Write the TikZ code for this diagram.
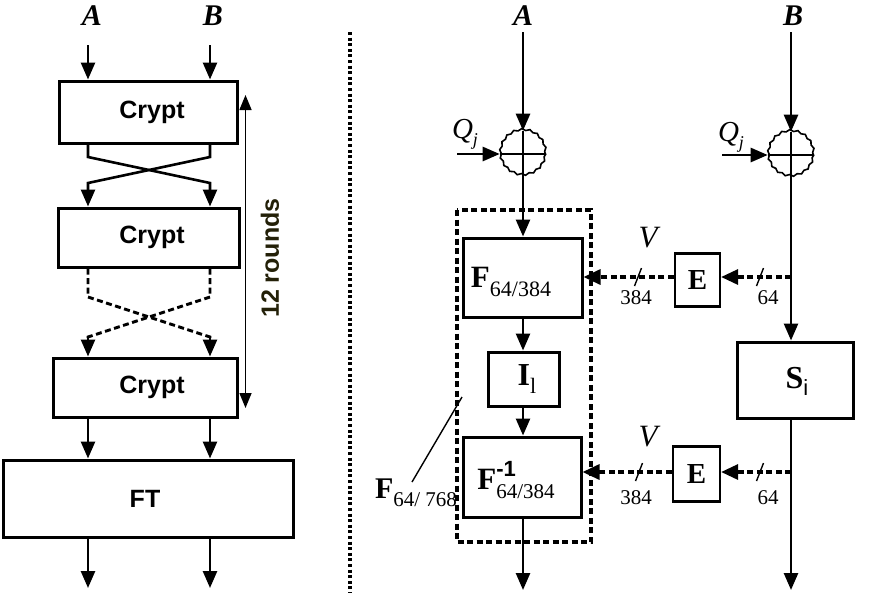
\documentclass[tikz,border=0pt]{standalone}
\usepackage{fontspec}
\setmainfont{Liberation Serif}
\setsansfont{Liberation Sans}
\usetikzlibrary{arrows.meta,decorations.pathmorphing}
\definecolor{roundcol}{RGB}{35,32,8}
\begin{document}
\begin{tikzpicture}[x=1pt,y=-1pt,
  box/.style={draw, line width=3pt, inner sep=0pt},
  thinbox/.style={draw, line width=2.2pt, inner sep=0pt},
  arr/.style={line width=2.6pt, -{Triangle[length=17pt,width=14pt]}},
  dsh/.style={line width=3.2pt, dash pattern=on 6pt off 3.5pt},
  darr/.style={dsh, -{Triangle[length=17pt,width=15pt]}},
  sf/.style={font=\sffamily\bfseries\fontsize{25}{25}\selectfont},
  lab/.style={font=\fontsize{30}{30}\selectfont\bfseries\itshape},
  num/.style={font=\fontsize{21}{21}\selectfont, inner sep=0pt},
  xor/.style={circle, draw, line width=1.6pt, minimum size=45pt, inner sep=0pt,
     decorate, decoration={snake, segment length=8pt, amplitude=0.9pt}},
]
\useasboundingbox (0,0) rectangle (874,598);

% ---------------- left side ----------------
\node[lab] (lA) at (92,16) {A};
\node[lab] (lB) at (213,16) {B};
\node[box, minimum width=178pt, minimum height=62pt] (c1) at (148,112) {};
\node[box, minimum width=181pt, minimum height=59pt] (c2) at (148.5,237.5) {};
\node[box, minimum width=184pt, minimum height=59pt] (c3) at (145,387.5) {};
\node[box, minimum width=290pt, minimum height=77pt] (ft) at (148,498.5) {};
\node[sf, inner sep=0pt] (c1t) at (152,112) {Crypt};
\node[sf, inner sep=0pt] (c2t) at (152,237.5) {Crypt};
\node[sf, inner sep=0pt] (c3t) at (152,387.5) {Crypt};
\node[sf, inner sep=0pt] (ftt) at (145,498.5) {FT};

\coordinate (ia) at (88,45);
\coordinate (ib) at (210,45);
\draw[arr] (ia) -- (ia |- c1.north);
\draw[arr] (ib) -- (ib |- c1.north);

% solid crossing
\draw[arr] (88,0 |- c1.south) -- (88,157) -- (210,183) -- (210,0 |- c2.north);
\draw[arr] (210,0 |- c1.south) -- (210,157) -- (88,183) -- (88,0 |- c2.north);
% dashed crossing
\draw[dsh, line width=2.9pt] (88,0 |- c2.south) -- (88,297) -- (210,337) -- (210,342);
\draw[dsh, line width=2.9pt] (210,0 |- c2.south) -- (210,297) -- (88,337) -- (88,342);
\coordinate (da) at (88,337);
\coordinate (db) at (210,337);
\draw[arr] (da) -- (da |- c3.north);
\draw[arr] (db) -- (db |- c3.north);

\draw[arr] (88,0 |- c3.south) -- (88,0 |- ft.north);
\draw[arr] (210,0 |- c3.south) -- (210,0 |- ft.north);
\coordinate (oa) at (88,588);
\coordinate (ob) at (210,588);
\draw[arr] (oa |- ft.south) -- (oa);
\draw[arr] (ob |- ft.south) -- (ob);

% 12 rounds
\coordinate (r1) at (245.5,95);
\coordinate (r2) at (245.5,408);
\draw[line width=1.5pt, {Triangle[length=15pt,width=12pt]}-{Triangle[length=15pt,width=12pt]}] (r1) -- (r2);
\node[rotate=90, font=\sffamily\bfseries\fontsize{25}{25}\selectfont, text=roundcol] (rounds) at (270,258) {12 rounds};

% separator
\coordinate (s1) at (350,32);
\coordinate (s2) at (350,593);
\draw[line width=3.2pt, dash pattern=on 3pt off 2.6pt] (s1) -- (s2);

% ---------------- right side ----------------
\node[lab] (rA) at (523,16) {A};
\node[lab] (rB) at (793,16) {B};

\node[xor] (xa) at (523,154) {};
\node[xor] (xb) at (791,155) {};
\draw[line width=1.5pt] (xa.north) -- (xa.south) (xa.west) -- (xa.east);
\draw[line width=1.5pt] (xb.north) -- (xb.south) (xb.west) -- (xb.east);

\coordinate (tA) at (523,32);
\coordinate (tB) at (791,32);
\draw[arr] (tA) -- (xa.north);
\draw[arr] (tB) -- (xb.north);

\node[font=\fontsize{29}{29}\selectfont\itshape, inner sep=0pt] (q1) at (465,134) {Q\raisebox{-0.25em}{\fontsize{18}{18}\selectfont j}};
\node[font=\fontsize{29}{29}\selectfont\itshape, inner sep=0pt] (q2) at (731,137) {Q\raisebox{-0.25em}{\fontsize{18}{18}\selectfont j}};
\coordinate (qa) at (457,154);
\coordinate (qb) at (722,155);
\draw[arr] (qa) -- (xa.west);
\draw[arr] (qb) -- (xb.west);

% F-block container
\draw[dsh] (457,210) rectangle (591,542);

\node[box, minimum width=119pt, minimum height=79pt] (F) at (522.5,277.5) {};
\node[inner sep=0pt, font=\fontsize{31}{31}\selectfont] (Ft) at (511,282) {\textbf{F}\raisebox{-0.28em}{\fontsize{22}{22}\selectfont 64/384}};
\node[box, minimum width=71pt, minimum height=54pt] (I) at (523.5,379) {};
\node[inner sep=0pt, font=\fontsize{32}{32}\selectfont] (It) at (527,379) {\textbf{I}\raisebox{-0.28em}{\fontsize{22}{22}\selectfont l}};
\node[box, minimum width=118pt, minimum height=80pt] (Fi) at (522,477) {};
\node[inner sep=0pt, font=\fontsize{31}{31}\selectfont] (Fit) at (516,480) {\textbf{F}\rlap{\raisebox{0.42em}{\sffamily\bfseries\fontsize{22}{22}\selectfont -1}}\raisebox{-0.28em}{\fontsize{21}{21}\selectfont 64/384}};

\draw[arr] (xa.south) -- (xa.south |- F.north);
\draw[arr] (523,0 |- F.south) -- (523,0 |- I.north);
\draw[arr] (523,0 |- I.south) -- (523,0 |- Fi.north);
\coordinate (fo) at (523,590);
\draw[arr] (fo |- Fi.south) -- (fo);

% S box
\node[box, minimum width=116pt, minimum height=76pt] (S) at (795,380) {};
\node[inner sep=0pt, font=\fontsize{32}{32}\selectfont] (St) at (797,381) {\textbf{S}\raisebox{-0.22em}{\sffamily\fontsize{22}{22}\selectfont i}};
\draw[arr] (xb.south) -- (xb.south |- S.north);
\coordinate (so) at (791,590);
\draw[arr] (so |- S.south) -- (so);

% E boxes
\node[thinbox, minimum width=45pt, minimum height=53pt, font=\bfseries\fontsize{29}{29}\selectfont] (E1) at (697.5,280) {E};
\node[thinbox, minimum width=47pt, minimum height=55pt, font=\bfseries\fontsize{29}{29}\selectfont] (E2) at (696.5,474) {E};

\coordinate (b1) at (791,277);
\coordinate (b2) at (791,472);
\draw[darr] (b1) -- (b1 -| E1.east);
\draw[darr] (E1.west |- b1) -- (b1 -| F.east);
\draw[darr] (b2) -- (b2 -| E2.east);
\draw[darr] (E2.west |- b2) -- (b2 -| Fi.east);

% slashes
\foreach \x/\y/\n in {638/277/a, 760/277/b, 639/472/c, 760/472/d}{
  \coordinate (sl\n) at (\x,\y);
  \draw[line width=1.4pt] ([shift={(-3.5,9)}]sl\n) -- ([shift={(3.5,-9)}]sl\n);
}
\node[num] (n1) at (636,298) {384};
\node[num] (n2) at (768,298) {64};
\node[num] (n3) at (636,498) {384};
\node[num] (n4) at (768,498) {64};
\node[font=\fontsize{31}{31}\selectfont\itshape, inner sep=0pt] (V1) at (648,238) {V};
\node[font=\fontsize{31}{31}\selectfont\itshape, inner sep=0pt] (V2) at (648,437) {V};

% F64/768 label
\node[inner sep=0pt, font=\fontsize{30}{30}\selectfont] (Fl) at (416,493) {\textbf{F}\raisebox{-0.28em}{\fontsize{21}{21}\selectfont 64/ 768}};
\coordinate (l1) at (412,482);
\coordinate (l2) at (462,397);
\draw[line width=1.4pt] (l1) -- (l2);
\end{tikzpicture}
\end{document}
